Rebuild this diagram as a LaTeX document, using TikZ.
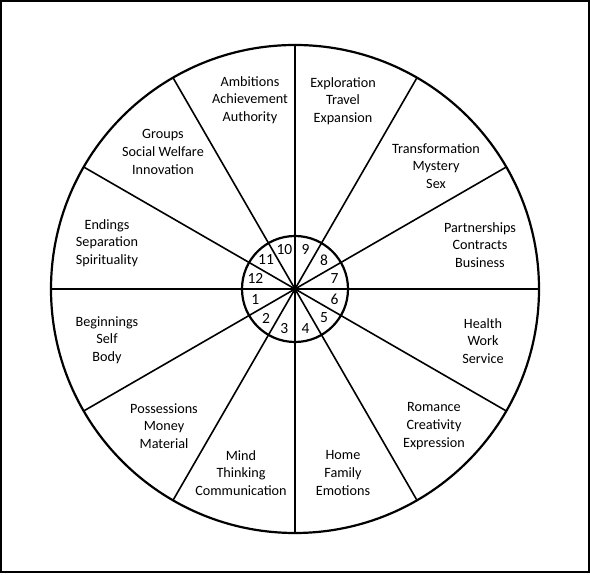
\documentclass[tikz,border=0pt]{standalone}
\usepackage{fontspec}
\setmainfont{Carlito}
\usetikzlibrary{calc}
\begin{document}
\begin{tikzpicture}[x=1pt,y=1pt,
  housetext/.style={align=center,inner sep=0pt,font=\fontsize{14.2}{17.7}\selectfont},
  housenum/.style={inner sep=0pt,font=\fontsize{15.5}{16}\selectfont},
  wheel/.style={line width=2.2pt},
  spoke/.style={line width=1.6pt}]
\useasboundingbox (0,0) rectangle (590,575);
\draw[line width=2pt] (1,3) rectangle (588.5,574);
\coordinate (c) at (295,286);
\draw[wheel] (c) circle[radius=244];
\draw[wheel] (c) circle[radius=53];
\foreach \a in {0,30,...,150}{
  \draw[spoke] ($(c)+(\a:244)$) -- ($(c)+(\a+180:244)$);
}
\foreach \k in {1,...,12}{
  \pgfmathsetmacro{\ang}{195+30*(\k-1)}
  \node[housenum] (n\k) at ($(c)+(\ang:41)$) {\k};
}
\node[housetext] (h10) at (250,475) {Ambitions\\Achievement\\Authority};
\node[housetext] (h9) at (343,474) {Exploration\\Travel\\Expansion};
\node[housetext] (h8) at (436,409) {Transformation\\Mystery\\Sex};
\node[housetext] (h7) at (480,330) {Partnerships\\Contracts\\Business};
\node[housetext] (h6) at (483,234) {Health\\Work\\Service};
\node[housetext] (h5) at (434,149) {Romance\\Creativity\\Expression};
\node[housetext] (h4) at (343,102) {Home\\Family\\Emotions};
\node[housetext] (h3) at (241,102) {Mind\\Thinking\\Communication};
\node[housetext] (h2) at (164,149) {Possessions\\Money\\Material};
\node[housetext] (h1) at (107,235) {Beginnings\\Self\\Body};
\node[housetext] (h12) at (107,332) {Endings\\Separation\\Spirituality};
\node[housetext] (h11) at (163,423) {Groups\\Social Welfare\\Innovation};
\end{tikzpicture}
\end{document}
